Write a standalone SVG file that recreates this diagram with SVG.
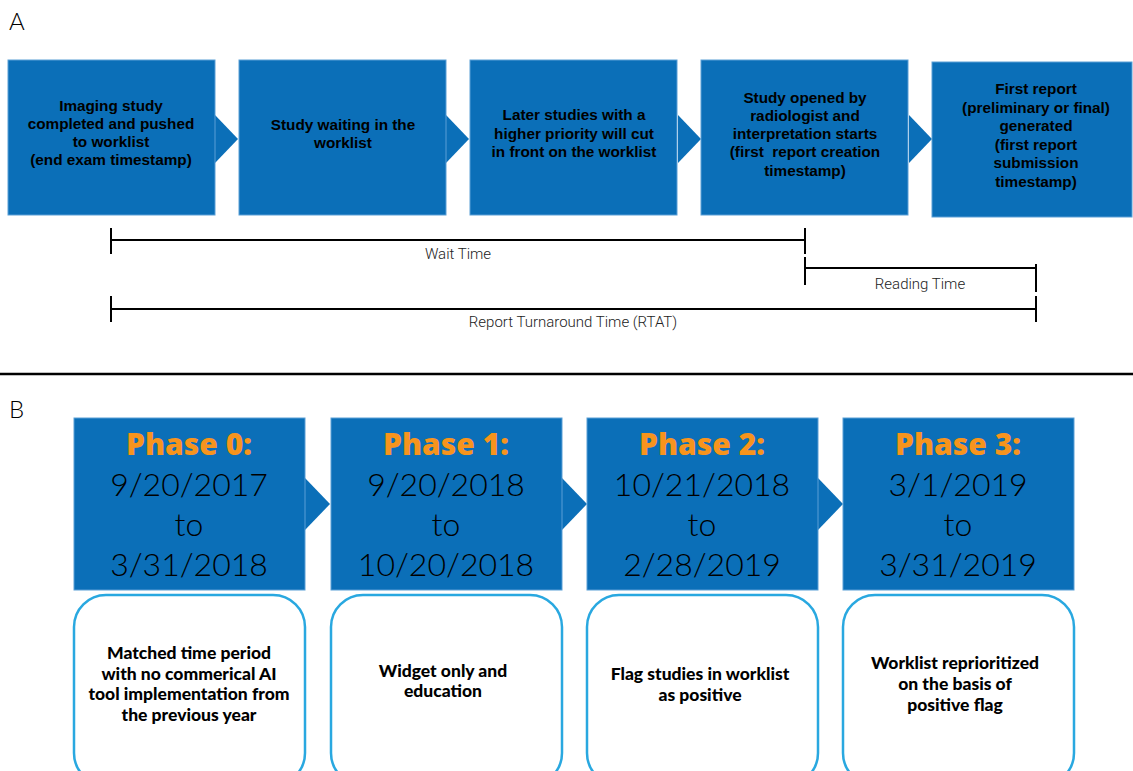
<svg xmlns="http://www.w3.org/2000/svg" width="1133" height="771" viewBox="0 0 1133 771">
<style>
.box{fill:#0b6fb8;stroke:#5a9fd6;stroke-width:1}
.chev{fill:#0b6fb8}
.bt{font-family:"Liberation Sans",Arial,sans-serif;font-weight:700;font-size:15.3px;fill:#000;text-anchor:middle}
.tl{stroke:#000;stroke-width:2;fill:none}
.tt{font-family:"Roboto",sans-serif;font-weight:300;font-size:15px;fill:#222;text-anchor:middle}
.sec{font-family:"Lato",sans-serif;font-weight:300;font-size:24px;fill:#000}
.ph{font-family:"Open Sans",sans-serif;font-weight:800;font-size:30px;fill:#f7941d;text-anchor:middle}
.dt{font-family:"Lato",sans-serif;font-weight:300;font-size:32px;fill:#000;text-anchor:middle}
.rb{fill:#fff;stroke:#29a8e0;stroke-width:2.5}
.rt{font-family:"Lato",sans-serif;font-weight:900;font-size:17.5px;fill:#000;text-anchor:middle}
</style>
<rect width="1133" height="771" fill="#fff"/>
<text class="sec" x="9" y="30">A</text>
<text class="sec" x="9" y="418">B</text>

<g id="connectors">
<polygon class="chev" points="215,115 238,139 215,163"/>
<polygon class="chev" points="446,115 469,139 446,163"/>
<polygon class="chev" points="678,115 701,139 678,163"/>
<polygon class="chev" points="909,115 932,139 909,163"/>
<polygon class="chev" points="305,478 330,504 305,530"/>
<polygon class="chev" points="562,478 587,504 562,530"/>
<polygon class="chev" points="818,478 843,504 818,530"/>
</g>

<g id="a1"><rect class="box" x="8" y="60" width="207" height="155"/>
<text class="bt" x="111" y="111">Imaging study</text><text class="bt" x="111" y="129">completed and pushed</text><text class="bt" x="111" y="147">to worklist</text><text class="bt" x="111" y="165">(end exam timestamp)</text></g>
<g id="a2"><rect class="box" x="239" y="60" width="207" height="155"/>
<text class="bt" x="343" y="130">Study waiting in the</text><text class="bt" x="343" y="148">worklist</text></g>
<g id="a3"><rect class="box" x="470" y="60" width="207" height="155"/>
<text class="bt" x="574" y="120">Later studies with a</text><text class="bt" x="574" y="139">higher priority will cut</text><text class="bt" x="574" y="157">in front on the worklist</text></g>
<g id="a4"><rect class="box" x="701" y="60" width="207" height="155"/>
<text class="bt" x="805" y="103">Study opened by</text><text class="bt" x="805" y="121">radiologist and</text><text class="bt" x="805" y="139">interpretation starts</text><text class="bt" x="805" y="157" xml:space="preserve">(first  report creation</text><text class="bt" x="805" y="176">timestamp)</text></g>
<g id="a5"><rect class="box" x="932" y="62" width="200" height="155"/>
<text class="bt" x="1036" y="94">First report</text><text class="bt" x="1036" y="113">(preliminary or final)</text><text class="bt" x="1036" y="131">generated</text><text class="bt" x="1036" y="150">(first report</text><text class="bt" x="1036" y="168">submission</text><text class="bt" x="1036" y="187">timestamp)</text></g>

<g id="timelines">
<path class="tl" d="M111,228V254M111,240H805M805,228V254"/>
<text class="tt" x="458" y="259">Wait Time</text>
<path class="tl" d="M805,257V285M805,268H1036M1036,264V292"/>
<text class="tt" x="920" y="289">Reading Time</text>
<path class="tl" d="M111,296V322M111,309H1036M1036,296V322"/>
<text class="tt" x="573" y="327">Report Turnaround Time (RTAT)</text>
</g>
<line x1="0" y1="374" x2="1133" y2="374" stroke="#000" stroke-width="2.5"/>

<g id="p0"><rect class="box" x="74" y="418" width="231" height="172"/>
<text class="ph" x="189" y="455">Phase 0:</text><text class="dt" x="189" y="496">9/20/2017</text><text class="dt" x="189" y="536">to</text><text class="dt" x="189" y="576">3/31/2018</text></g>
<g id="p1"><rect class="box" x="331" y="418" width="231" height="172"/>
<text class="ph" x="446" y="455">Phase 1:</text><text class="dt" x="446" y="496">9/20/2018</text><text class="dt" x="446" y="536">to</text><text class="dt" x="446" y="576">10/20/2018</text></g>
<g id="p2"><rect class="box" x="587" y="418" width="231" height="172"/>
<text class="ph" x="702" y="455">Phase 2:</text><text class="dt" x="702" y="496">10/21/2018</text><text class="dt" x="702" y="536">to</text><text class="dt" x="702" y="576">2/28/2019</text></g>
<g id="p3"><rect class="box" x="843" y="418" width="231" height="172"/>
<text class="ph" x="958" y="455">Phase 3:</text><text class="dt" x="958" y="496">3/1/2019</text><text class="dt" x="958" y="536">to</text><text class="dt" x="958" y="576">3/31/2019</text></g>

<g id="d0"><rect class="rb" x="74" y="595" width="231" height="190" rx="32"/>
<text class="rt" x="189" y="659">Matched time period</text><text class="rt" x="189" y="680">with no commerical AI</text><text class="rt" x="189" y="700">tool implementation from</text><text class="rt" x="189" y="721">the previous year</text></g>
<g id="d1"><rect class="rb" x="331" y="595" width="231" height="190" rx="32"/>
<text class="rt" x="443" y="677">Widget only and</text><text class="rt" x="443" y="697">education</text></g>
<g id="d2"><rect class="rb" x="587" y="595" width="231" height="190" rx="32"/>
<text class="rt" x="700" y="680">Flag studies in worklist</text><text class="rt" x="700" y="701">as positive</text></g>
<g id="d3"><rect class="rb" x="843" y="595" width="231" height="190" rx="32"/>
<text class="rt" x="955" y="669">Worklist reprioritized</text><text class="rt" x="955" y="690">on the basis of</text><text class="rt" x="955" y="711">positive flag</text></g>
</svg>
